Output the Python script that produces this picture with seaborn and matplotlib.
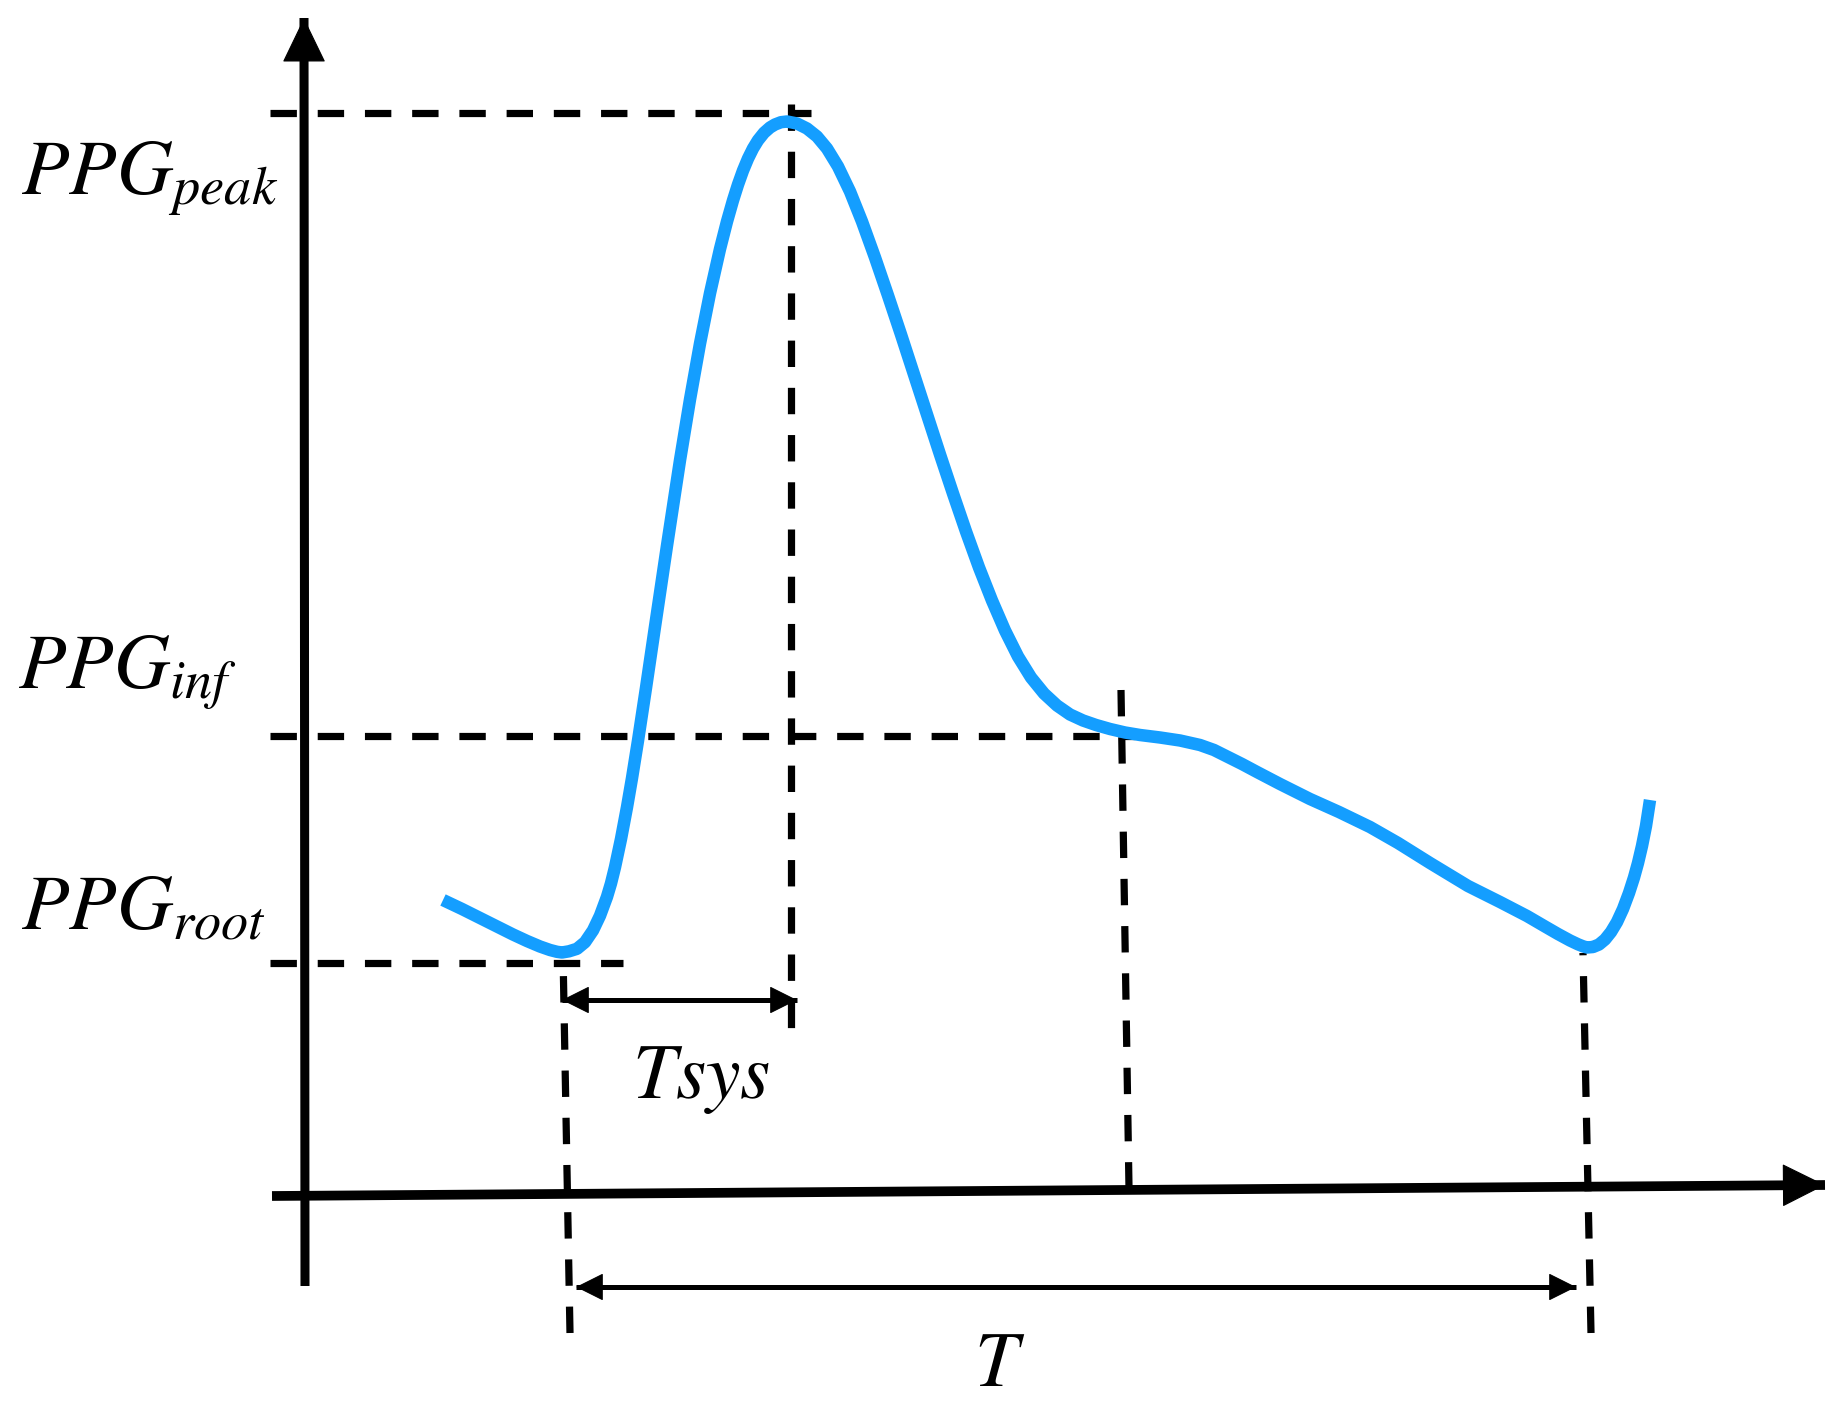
import matplotlib
matplotlib.use("Agg")
import matplotlib.pyplot as plt
import seaborn as sns
import pandas as pd
from matplotlib.patches import FancyArrowPatch

# PPG pulse (time, amplitude), origin at the axes crossing
curve_t = [138, 157, 175, 192, 208, 222, 235, 245, 252, 257, 264, 272, 280, 288, 295,
           302, 306, 310, 316, 322, 327, 333, 341, 350, 362, 375, 385, 395, 405, 415,
           422, 428, 433, 438, 443, 448, 453, 459, 465, 470, 476, 482, 492, 502, 512,
           522, 533, 545, 557, 570, 583, 596, 609, 622, 635, 648, 661, 674, 687, 700,
           713, 726, 739, 752, 765, 778, 791, 805, 820, 835, 855, 875, 895, 909, 922,
           937, 952, 975, 1005, 1034, 1065, 1093, 1125, 1163, 1195, 1222, 1240, 1253,
           1265, 1273, 1278, 1282, 1288, 1294, 1300, 1306, 1312, 1318, 1324, 1329, 1333,
           1337, 1341, 1345]
curve_a = [296, 287, 278, 269.5, 261.5, 255, 249.5, 246, 244.2, 243.5, 244.7, 247.2,
           253.8, 265.6, 280.3, 299.2, 312.6, 328.8, 357, 388.8, 417.8, 455.3, 508.1,
           569.3, 650.3, 735.7, 796.5, 852.4, 902.7, 947, 974.5, 995.6, 1011.4, 1025.4,
           1037.4, 1047.5, 1055.7, 1063.2, 1068.5, 1071.5, 1073.8, 1074.5, 1072.5,
           1067.5, 1059.5, 1047.5, 1029.5, 1004.5, 974.5, 938.5, 900.5, 861.5, 821.5,
           781.5, 741.5, 702.5, 664.5, 628.5, 595.5, 565.5, 539.5, 518.5, 502.5, 490.5,
           481.5, 475.5, 471, 467, 463.5, 461, 458.5, 455.5, 451, 446, 439.5, 432, 424,
           412, 397, 384, 369, 353, 333, 310, 294, 280, 269.5, 262, 255.5, 251.7, 249.7,
           248.5, 249, 251.5, 256.5, 264, 274, 287, 303, 318.5, 333, 350, 370, 396]

# reference levels and times
levels = {"peak": 1083, "inf": 460, "root": 233}
level_ends = {"peak": 506, "inf": 830, "root": 318}
t_root, t_peak, t_inf, t_end = 258, 486, 816, 1278
level_labels = ["$PPG_{peak}$", "$PPG_{inf}$", "$PPG_{root}$"]

sns.set_theme(style="white")
plt.rcParams["mathtext.fontset"] = "stix"
plt.rcParams["lines.scale_dashes"] = False

fig = plt.figure(figsize=(18.42, 14.06), dpi=100)
ax = fig.add_axes([0, 0, 1, 1])
ax.set_xlim(-305, 1537)
ax.set_ylim(-210, 1196)
ax.axis("off")

dash = (0, (19, 15))
dkw = dict(color="black", lw=5.2, linestyle=dash)

# horizontal guides
for key in ["peak", "inf", "root"]:
    ax.plot([-35, level_ends[key]], [levels[key], levels[key]], **dkw)

# vertical guides
ax.plot([t_peak, t_peak], [1092, 162], **dkw)
ax.plot([t_root + 7, t_root], [-137, 243], **dkw)
ax.plot([t_inf, t_inf + 8], [506, 8], **dkw)
ax.plot([t_end + 8, t_end], [-137, 243], **dkw)

# the pulse
df = pd.DataFrame({"t": curve_t, "a": curve_a})
sns.lineplot(data=df, x="t", y="a", sort=False, estimator=None, ax=ax,
             color="#149eff", lw=9, solid_capstyle="butt", solid_joinstyle="round")


def head(base, tip, hl, hw):
    # head sizes are in pixels (mutation_scale=1, no dpi correction)
    a = FancyArrowPatch(base, tip, arrowstyle=f"-|>,head_length={hl},head_width={hw}",
                        mutation_scale=1, lw=0.8, color="black", shrinkA=0, shrinkB=0,
                        zorder=5)
    ax.add_patch(a)


def arrow(p0, p1, lw, hl, hw, both=False):
    ax.plot([p0[0], p1[0]], [p0[1], p1[1]], color="black", lw=lw,
            solid_capstyle="butt", zorder=4)
    dx, dy = p1[0] - p0[0], p1[1] - p0[1]
    head((p1[0] - 0.1 * dx, p1[1] - 0.1 * dy), p1, hl, hw)
    if both:
        head((p0[0] + 0.1 * dx, p0[1] + 0.1 * dy), p0, hl, hw)


# axes
arrow((0, -90), (-1, 1178), 6.5, 30, 14.5)
arrow((-33, 0), (1520, 11), 7, 29, 14.5)

# intervals
arrow((257, 196), (492, 196), 3.6, 18, 9, both=True)
arrow((271, -91), (1271, -91), 3.6, 18, 9, both=True)

fs = 56
tkw = dict(fontsize=fs, color="black", va="baseline")
ax.text(-284, 1002, level_labels[0], ha="left", **tkw)
ax.text(-287, 507, level_labels[1], ha="left", **tkw)
ax.text(-284, 267, level_labels[2], ha="left", **tkw)
ax.text(396, 98, "$Tsys$", ha="center", **tkw)
ax.text(695, -190, "$T$", ha="center", **tkw)

fig.savefig("out.png", dpi=100, facecolor="white")
plt.close(fig)
